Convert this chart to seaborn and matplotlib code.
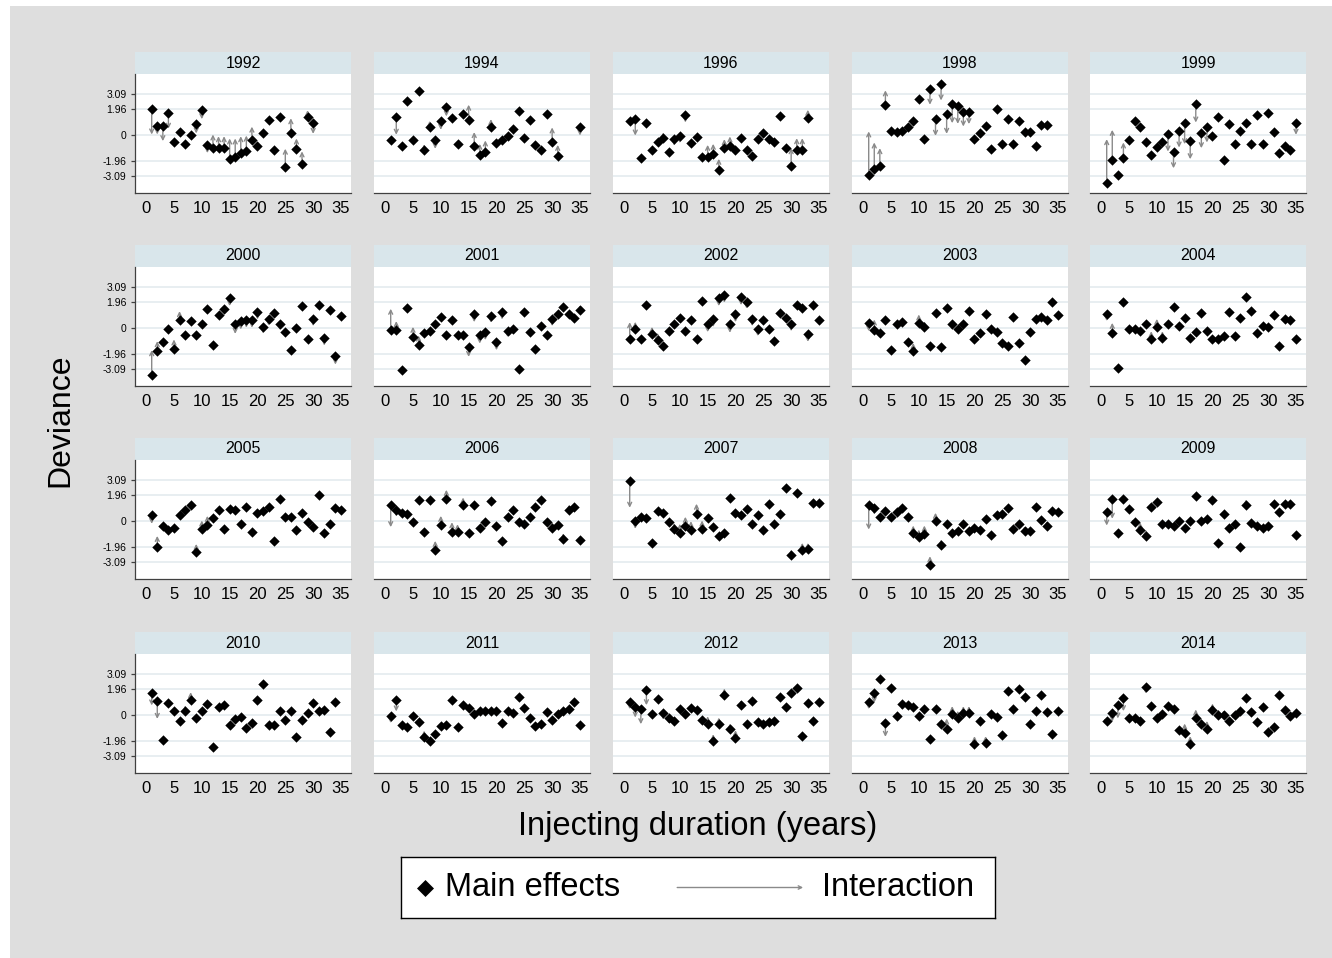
import numpy as np
import pandas as pd
import matplotlib
matplotlib.use("Agg")
import matplotlib.pyplot as plt
from matplotlib.patches import Rectangle
import seaborn as sns

nan = np.nan
durations = list(range(1, 36))
years = [1992, 1994, 1996, 1998, 1999, 2000, 2001, 2002, 2003, 2004,
         2005, 2006, 2007, 2008, 2009, 2010, 2011, 2012, 2013, 2014]
y_ticks = [-3.09, -1.96, 0, 1.96, 3.09]
y_tick_labels = ["-3.09", "-1.96", "0", "1.96", "3.09"]
x_ticks = [0, 5, 10, 15, 20, 25, 30, 35]

main_1992 = [1.96, 0.69, 0.69, 1.65, -0.53, 0.23, -0.64, 0.0, 0.81, 1.88, -0.76, -0.99, -0.99, -0.99, -1.81, -1.68, -1.35, -1.22, -0.38, -0.79, 0.13, 1.12, -1.09, 1.37, -2.37, 0.13, -1.04, -2.19, 1.37, 0.89, nan, nan, nan, nan, nan]
inter_1992 = [0.05, 0.05, -0.45, 0.48, -0.53, 0.23, -0.64, 0.0, 0.13, 1.2, -1.35, 0.05, -0.08, -0.08, -0.25, -0.25, -0.08, -0.03, 0.64, -0.79, 0.13, 1.12, -1.09, 1.37, -1.02, 1.27, -0.25, -1.22, 1.88, 0.10, nan, nan, nan, nan, nan]
main_1994 = [-0.38, 1.33, -0.78, 2.59, -0.35, 3.34, -1.11, 0.58, -0.35, 1.03, 2.09, 1.28, -0.65, 1.58, 1.16, -0.78, -1.48, -1.23, 0.58, -0.60, -0.35, -0.03, 0.48, 1.83, -0.18, 1.11, -0.73, -1.08, 1.58, -0.55, -1.56, nan, nan, nan, 0.63]
inter_1994 = [-0.38, 0.03, -0.78, 2.59, -0.35, 3.34, -0.68, 1.08, -1.03, 0.40, 1.41, 1.28, -0.65, 1.58, 2.29, 0.23, -0.65, -0.40, 1.21, -0.60, -0.35, -0.03, 0.48, 1.83, -0.18, 1.11, -0.73, -1.08, 1.58, 0.58, -0.73, nan, nan, nan, -0.03]
main_1996 = [1.03, 1.21, -1.73, 0.95, -1.11, -0.55, -0.18, -1.28, -0.30, -0.05, 1.48, -0.60, -0.15, -1.66, -1.66, -1.43, -2.61, -0.98, -0.80, -1.11, -0.23, -1.11, -1.56, -0.30, 0.20, -0.30, -0.48, 1.41, -0.98, -2.31, -1.11, -1.11, 1.28, nan, nan]
inter_1996 = [1.03, -0.03, -1.73, 0.95, -1.11, -0.55, 0.20, -1.28, -0.80, -0.60, 0.95, -0.60, -0.15, -1.66, -0.73, -0.65, -1.78, -0.30, -0.10, -1.11, -0.23, -1.11, -1.56, -0.30, 0.20, -0.30, -0.48, 1.41, -0.98, -0.98, -0.23, -0.23, 1.91, nan, nan]
main_1998 = [-2.99, -2.54, -2.29, 2.24, 0.35, 0.23, 0.28, 0.58, 1.03, 2.71, -0.30, 3.47, 1.23, 3.84, 1.61, 2.36, 2.16, 1.73, 1.73, -0.30, 0.15, 0.70, -1.03, 1.98, -0.68, 1.23, -0.68, 1.03, 0.23, 0.23, -0.80, 0.73, 0.73, nan, nan]
inter_1998 = [0.28, -0.55, -0.98, 3.37, 0.35, 0.23, 0.28, 0.58, 1.03, 2.71, -0.30, 2.29, -0.05, 2.61, 0.10, 0.90, 0.85, 0.65, 0.83, -0.30, 0.15, 0.70, -1.03, 1.98, -0.68, 1.23, -0.68, 1.03, 0.23, 0.23, -0.80, 0.73, 0.73, nan, nan]
main_1999 = [-3.57, -1.86, -2.99, -1.73, -0.40, 1.08, 0.58, -0.53, -1.48, -0.90, -0.53, 0.10, -1.28, 0.35, 0.95, -0.43, 2.34, 0.15, 0.60, -0.05, 1.33, -1.86, 0.85, -0.65, 0.35, 0.90, -0.65, 1.53, -0.65, 1.66, 0.23, -1.36, -0.78, -1.11, 0.90]
inter_1999 = [-0.30, 0.40, -2.99, -0.55, -0.40, 1.08, 0.58, -0.53, -1.48, -0.90, -0.53, -1.23, -2.49, -0.93, -0.68, -1.81, 0.95, -0.98, -0.55, -0.05, 1.33, -1.86, 0.85, -0.65, 0.35, 0.90, -0.65, 1.53, -0.65, 1.66, 0.23, -1.36, -0.78, -1.11, 0.03]
main_2000 = [-3.54, -1.73, -1.03, -0.03, -1.56, 0.58, -0.53, 0.53, -0.53, 0.35, 1.41, -1.23, 0.98, 1.41, 2.29, 0.33, 0.53, 0.60, 0.60, 1.21, 0.08, 0.70, 1.16, 0.28, -0.30, -1.61, 0.03, 1.66, -0.78, 0.70, 1.71, -0.73, 1.33, -2.11, 0.90]
inter_2000 = [-1.66, -0.98, -1.03, -0.03, -0.85, 1.28, -0.53, 0.53, -0.53, 0.35, 1.41, -1.23, 0.98, 1.41, 1.66, -0.43, -0.10, 0.03, 0.03, 0.65, -0.40, 0.20, 1.16, -0.15, -0.30, -1.61, 0.03, 1.66, -0.78, 0.15, 1.71, -1.31, 1.33, -2.74, 0.90]
main_2001 = [-0.15, -0.15, -3.12, 1.48, -0.65, -1.23, -0.35, -0.23, 0.28, 0.83, -0.48, 0.65, -0.48, -0.53, -1.43, 1.08, -0.48, -0.30, 0.90, -1.03, 1.21, -0.23, -0.10, -3.07, 1.21, -0.30, -1.53, 0.20, -0.53, 0.70, 1.08, 1.58, 1.08, 0.78, 1.33]
inter_2001 = [1.46, 0.53, -3.12, 1.48, 0.10, -0.55, -0.35, -0.23, 0.28, 0.83, -0.48, 0.65, -0.48, -0.53, -2.16, 0.45, -1.16, -0.90, 0.40, -1.66, 0.65, -0.68, -0.48, -3.07, 1.21, -0.30, -1.53, 0.20, -0.53, 0.15, 1.08, 1.58, 1.08, 0.78, 1.73]
main_2002 = [-0.80, -0.03, -0.78, 1.73, -0.43, -0.90, -1.31, -0.18, 0.35, 0.78, -0.23, 0.58, -0.85, 2.04, 0.35, 0.70, 2.24, 2.49, 0.28, 1.03, 2.34, 1.98, 0.70, -0.10, 0.65, -0.10, -0.98, 1.16, 0.78, 0.28, 1.71, 1.53, -0.43, 1.71, 0.65]
inter_2002 = [0.45, 0.48, -0.78, 1.73, 0.10, -0.35, -1.31, -0.18, 0.35, 0.78, -0.23, 0.58, -0.85, 2.04, -0.30, 0.08, 1.66, 1.91, -0.35, 0.45, 1.73, 1.46, 0.15, -0.60, 0.65, -0.10, -0.98, 1.16, 0.78, -0.23, 1.71, 1.53, -1.03, 1.71, 0.65]
main_2003 = [0.40, -0.15, -0.35, 0.65, -1.61, 0.28, 0.48, -1.03, -1.73, 0.40, 0.08, -1.31, 1.16, -1.41, 1.53, 0.28, -0.05, 0.35, 1.28, -0.85, -0.35, 1.03, -0.10, -0.30, -1.11, -1.31, 0.85, -1.11, -2.36, -0.28, 0.70, 0.83, 0.65, 1.96, 0.98]
inter_2003 = [-0.23, 0.65, -0.35, 0.65, -1.61, 0.28, 0.48, -1.03, -1.11, 1.03, 0.53, -1.31, 1.16, -1.41, 1.53, -0.15, -0.05, 0.03, 1.28, -0.85, -0.35, 1.03, -0.10, -0.30, -1.11, -1.31, 0.85, -1.11, -2.36, -0.28, 0.70, 0.83, 0.65, 1.96, 0.98]
main_2004 = [1.08, -0.35, -2.99, 1.98, -0.10, -0.05, -0.23, 0.28, -0.85, 0.10, -0.73, 0.35, 1.58, 0.20, 0.78, -0.73, -0.30, 1.16, -0.18, -0.85, -0.85, -0.60, 1.21, -0.60, 0.78, 2.36, 1.28, -0.35, 0.20, 0.08, 0.98, -1.36, 0.70, 0.65, -0.78]
inter_2004 = [0.53, 0.40, -2.99, 1.98, -0.10, -0.05, -0.23, 0.28, -0.23, 0.70, -0.23, 0.35, 1.58, 0.20, 0.78, -0.73, -0.30, 1.16, -0.18, -0.85, -0.85, -0.60, 1.21, -0.60, 0.78, 2.36, 1.28, -0.35, 0.20, 0.08, 0.98, -1.36, 0.70, 0.65, -0.78]
main_2005 = [0.43, -1.91, -0.35, -0.65, -0.48, 0.48, 0.85, 1.23, -2.34, -0.60, -0.28, 0.23, 0.85, -0.58, 0.93, 0.85, -0.20, 1.06, -0.83, 0.65, 0.73, 1.06, -1.48, 1.66, 0.30, 0.30, -0.70, 0.65, -0.03, -0.45, 1.98, -0.90, -0.20, 0.98, 0.85]
inter_2005 = [-0.20, -1.11, -0.35, -0.65, -0.48, 0.48, 0.85, 1.23, -1.71, 0.05, 0.40, 0.23, 0.85, -0.58, 0.55, 0.48, -0.20, 1.06, -1.16, 0.65, 0.73, 1.06, -1.48, 1.66, 0.30, 0.30, -0.70, 0.65, -0.03, -0.45, 1.98, -0.90, -0.20, 0.98, 0.85]
main_2006 = [1.18, 0.85, 0.65, 0.53, -0.03, 1.56, -0.83, 1.56, -2.16, -0.28, 1.68, -0.78, -0.78, 1.23, -0.90, 1.23, -0.48, -0.03, 1.53, -0.40, -1.48, 0.35, 0.85, -0.03, -0.23, 0.35, 1.03, 1.61, -0.08, -0.48, -0.28, -1.36, 0.85, 1.06, -1.41]
inter_2006 = [-0.45, 0.35, 0.65, 0.25, -0.03, 1.56, -0.83, 1.56, -1.48, 0.40, 2.36, -0.08, -0.23, 1.78, -0.90, 1.23, -0.48, -0.03, 1.53, -0.40, -1.48, 0.35, 0.85, -0.03, -0.23, 0.35, 1.03, 1.61, -0.08, -0.10, -0.28, -0.90, 1.23, 1.06, -1.41]
main_2007 = [3.02, 0.0, 0.33, 0.25, -1.68, 0.75, 0.63, -0.05, -0.58, -0.88, -0.33, -0.68, 0.55, -0.58, 0.25, -0.45, -1.08, -0.88, 1.76, 0.63, 0.43, 0.93, -0.20, 0.43, -0.70, 1.26, -0.20, 0.55, 2.46, -2.56, 2.09, -2.14, -2.09, 1.33, 1.33]
inter_2007 = [1.01, -0.58, 0.33, 0.25, -1.68, 0.75, 0.63, -0.05, -0.13, -0.20, 0.33, 0.0, 1.31, 0.05, 0.25, -0.45, -1.08, -0.88, 1.76, 0.63, 0.43, 0.93, -0.20, 0.43, -0.70, 1.26, -0.20, 0.55, 2.46, -2.14, 2.09, -1.63, -1.63, 1.33, 1.33]
main_2008 = [1.21, 1.01, 0.30, 0.75, 0.30, 0.68, 0.96, 0.30, -0.88, -1.18, -0.96, -3.27, 0.0, -1.83, -0.25, -0.88, -0.75, -0.25, -0.75, -0.55, -0.70, 0.13, -1.06, 0.45, 0.55, 0.96, -0.58, -0.20, -0.75, -0.75, 1.08, 0.05, -0.38, 0.80, 0.68]
inter_2008 = [-0.63, 0.50, 0.30, 0.75, 0.30, 0.68, 0.96, 0.30, -0.33, -0.63, -0.33, -2.64, 0.63, -1.38, -0.25, -0.88, -0.75, -0.25, -0.75, -0.55, -0.95, 0.13, -1.06, 0.45, 0.55, 0.96, -0.58, -0.20, -0.38, -0.75, 1.08, 0.38, 0.0, 0.80, 0.68]
main_2009 = [0.68, 1.63, -0.88, 1.63, 0.93, -0.08, -0.70, -1.13, 1.08, 1.43, -0.25, -0.18, -0.33, 0.0, -0.55, 0.0, 1.93, 0.0, 0.13, 1.56, -1.63, 0.55, -0.55, -0.25, -1.96, 1.21, -0.13, -0.33, -0.55, -0.38, 1.26, 0.68, 1.26, 1.26, -1.06]
inter_2009 = [-0.33, 0.18, -0.88, 1.63, 0.93, -0.38, -0.08, -0.63, 1.08, 1.43, -0.25, -0.18, -0.33, 0.0, -0.55, 0.0, 1.93, 0.0, 0.13, 1.56, -1.63, 0.55, -0.55, -0.25, -1.58, 1.63, -0.13, -0.33, -0.55, -0.38, 1.26, 0.68, 1.26, 1.26, -1.06]
main_2010 = [1.66, 1.06, -1.86, 0.90, 0.28, -0.45, 0.28, 1.16, -0.20, 0.28, 0.85, -2.41, 0.65, 0.73, -0.73, -0.28, -0.15, -0.98, -0.58, 1.11, 2.31, -0.73, -0.73, 0.28, -0.35, 0.28, -1.66, -0.35, 0.18, 0.93, 0.28, 0.40, -1.28, 0.98, nan]
inter_2010 = [0.73, -0.28, -1.86, 0.90, 0.28, -0.45, 0.73, 1.73, -0.20, 0.28, 0.85, -2.41, 0.65, 0.73, -0.73, -0.28, -0.15, -0.98, -0.58, 1.11, 2.31, -0.73, -0.73, 0.28, -0.35, 0.28, -1.66, -0.35, 0.18, 0.93, 0.28, 0.40, -1.28, 0.98, nan]
main_2011 = [-0.03, 1.16, -0.73, -0.90, -0.10, -0.48, -1.66, -1.98, -1.41, -0.85, -0.73, 1.16, -0.90, 0.73, 0.55, 0.10, 0.28, 0.28, 0.28, 0.28, -0.58, 0.35, 0.15, 1.36, 0.53, -0.20, -0.83, -0.70, 0.23, -0.35, 0.10, 0.30, 0.48, 0.98, -0.73]
inter_2011 = [-0.60, 0.28, -0.73, -0.90, -0.35, -0.48, -1.16, -1.98, -1.41, -0.85, -0.73, 1.16, -0.90, 0.73, 0.55, 0.10, 0.28, 0.28, 0.28, 0.28, -0.58, 0.35, 0.15, 1.36, 0.53, -0.20, -0.83, -0.70, 0.23, -0.35, 0.10, 0.30, 0.48, 0.98, -0.73]
main_2012 = [0.96, 0.63, 0.45, 1.88, 0.05, 1.18, 0.20, -0.18, -0.45, 0.45, 0.05, 0.55, 0.38, -0.38, -0.63, -1.96, -0.70, 1.51, -1.06, -1.71, 0.75, -0.70, 1.08, -0.50, -0.63, -0.55, -0.43, 1.38, 0.58, 1.68, 2.06, -1.58, 0.93, -0.45, 1.01]
inter_2012 = [0.45, -0.18, -0.68, 0.75, 0.05, 1.18, -0.33, -0.63, -0.45, 0.45, 0.05, 0.55, 0.38, -0.38, -0.08, -1.43, -0.18, 2.01, -0.63, -1.13, 1.13, -0.70, 1.08, -0.50, -0.63, -0.55, -0.43, 1.38, 0.58, 1.68, 2.06, -1.58, 0.93, -0.45, 1.01]
main_2013 = [0.96, 1.63, 2.69, -0.58, 2.06, -0.05, 0.83, 0.75, 0.63, -0.08, 0.45, -1.76, 0.45, -0.70, -1.01, 0.05, -0.25, 0.20, 0.20, -2.14, -0.43, -2.09, 0.05, -0.13, -1.46, 1.83, 0.45, 1.96, 1.38, -0.70, 0.33, 1.51, 0.25, -1.38, 0.33]
inter_2013 = [0.45, 0.93, 2.69, -1.63, 2.06, -0.05, 0.38, 0.38, 0.63, -0.08, 0.45, -1.76, 0.45, -0.70, -0.25, 0.68, 0.33, 0.68, 0.68, -1.58, -0.08, -1.58, 0.05, -0.13, -1.46, 1.83, 0.45, 1.96, 1.38, -0.70, 0.33, 1.51, 0.25, -1.38, 0.33]
main_2014 = [-0.43, 0.13, 0.75, 1.31, -0.20, -0.25, -0.43, 2.09, 0.68, -0.18, 0.05, 0.68, 0.43, -1.13, -1.31, -2.14, -0.20, -0.70, -1.01, 0.38, 0.0, 0.0, -0.43, 0.0, 0.30, 1.26, 0.25, -0.50, 0.58, -1.26, -0.88, 1.51, 0.38, -0.08, 0.13]
inter_2014 = [-0.75, -0.50, -0.25, 0.30, -0.20, -0.25, -0.88, 1.63, 0.68, -0.18, 0.05, 0.68, 0.43, -1.13, -0.63, -1.58, 0.43, -0.25, -0.43, 0.88, 0.43, 0.38, -0.43, 0.25, 0.30, 1.26, 0.25, -0.50, 0.58, -1.26, -0.88, 1.51, 0.38, -0.08, 0.13]

mains = [main_1992, main_1994, main_1996, main_1998, main_1999, main_2000, main_2001,
         main_2002, main_2003, main_2004, main_2005, main_2006, main_2007, main_2008,
         main_2009, main_2010, main_2011, main_2012, main_2013, main_2014]
inters = [inter_1992, inter_1994, inter_1996, inter_1998, inter_1999, inter_2000, inter_2001,
          inter_2002, inter_2003, inter_2004, inter_2005, inter_2006, inter_2007, inter_2008,
          inter_2009, inter_2010, inter_2011, inter_2012, inter_2013, inter_2014]

sns.set_style("white")
plt.rcParams['font.family'] = ['Liberation Sans', 'DejaVu Sans']
plt.rcParams['text.color'] = 'black'
plt.rcParams['axes.labelcolor'] = 'black'
plt.rcParams['xtick.color'] = 'black'
plt.rcParams['ytick.color'] = 'black'

W, H = 1332, 958
fig = plt.figure(figsize=(W / 100, H / 100), dpi=100)
fig.patch.set_facecolor('white')
fig.add_artist(Rectangle((10 / W, 0), 1 - 10 / W, 1 - 6 / H, transform=fig.transFigure,
                         facecolor='#dedede', edgecolor='none', zorder=-10))


def px_axes(l, t, w, h):
    return fig.add_axes([l / W, 1 - (t + h) / H, w / W, h / H])


col_left = [135, 374, 613, 852, 1090]
row_top = [74, 267, 460, 654]
pw, ph, sh = 216, 119, 22
axis_col = '#404040'
arrow_col = '#8a8a8a'

for k, yr in enumerate(years):
    r, c = divmod(k, 5)
    l, t = col_left[c], row_top[r]
    # strip
    sax = px_axes(l, t - sh, pw, sh)
    sax.set_facecolor('#d9e6eb')
    sax.set_xticks([]); sax.set_yticks([])
    for s in sax.spines.values():
        s.set_visible(False)
    sax.text(0.5, 0.5, str(yr), ha='center', va='center', fontsize=11.5,
             color='black', transform=sax.transAxes)

    ax = px_axes(l, t, pw, ph)
    ax.set_facecolor('white')
    df = pd.DataFrame({'duration': durations, 'main': mains[k], 'inter': inters[k]})
    for _, row in df.dropna().iterrows():
        if abs(row['inter'] - row['main']) > 0.04:
            ax.annotate('', xy=(row['duration'], row['inter']),
                        xytext=(row['duration'], row['main']),
                        arrowprops=dict(arrowstyle='->', color=arrow_col, lw=1.0,
                                        shrinkA=0, shrinkB=0, mutation_scale=7),
                        zorder=2)
    sns.scatterplot(data=df.dropna(), x='duration', y='main', marker='D', s=28,
                    color='black', linewidth=0, ax=ax, legend=False, zorder=3)
    ax.set_xlim(-2, 36.8)
    ax.set_ylim(-4.35, 4.6)
    ax.set_xlabel(''); ax.set_ylabel('')
    ax.set_yticks(y_ticks)
    ax.set_xticks(x_ticks)
    ax.set_xticklabels([str(v) for v in x_ticks], fontsize=12, color='black')
    ax.yaxis.grid(True, color='#e6edf0', lw=1.3, zorder=0)
    ax.xaxis.grid(False)
    ax.set_axisbelow(True)
    for sname in ['top', 'right']:
        ax.spines[sname].set_visible(False)
    ax.spines['bottom'].set_color(axis_col)
    ax.spines['bottom'].set_linewidth(0.9)
    ax.tick_params(axis='x', length=4, width=0.9, color=axis_col, pad=2, labelcolor='black')
    if c == 0:
        ax.spines['left'].set_color(axis_col)
        ax.spines['left'].set_linewidth(0.9)
        ax.set_yticklabels(y_tick_labels, fontsize=7.5, color='black')
        ax.tick_params(axis='y', length=3, width=0.9, color=axis_col, pad=3, labelcolor='black', left=True)
    else:
        ax.spines['left'].set_visible(False)
        ax.tick_params(axis='y', length=0, labelleft=False)

fig.text(60 / W, 1 - 420 / H, 'Deviance', rotation=90, ha='center', va='center',
         fontsize=23, color='black')
fig.text(698 / W, 1 - 826 / H, 'Injecting duration (years)', ha='center', va='center',
         fontsize=23.5, color='black')

# legend
lax = px_axes(401, 857, 594, 61)
lax.set_facecolor('white')
lax.set_xlim(0, 1); lax.set_ylim(0, 1)
lax.set_xticks([]); lax.set_yticks([])
for s in lax.spines.values():
    s.set_visible(True); s.set_color('black'); s.set_linewidth(1.0)
lax.scatter([0.040], [0.5], marker='D', s=75, color='black', linewidths=0)
lax.text(0.074, 0.5, 'Main effects', ha='left', va='center', fontsize=23.5, color='black')
lax.annotate('', xy=(0.677, 0.5), xytext=(0.465, 0.5),
             arrowprops=dict(arrowstyle='->', color=arrow_col, lw=1.0, shrinkA=0, shrinkB=0,
                             mutation_scale=6))
lax.text(0.709, 0.5, 'Interaction', ha='left', va='center', fontsize=23.5, color='black')

fig.savefig('out.png', dpi=100, facecolor=fig.get_facecolor())
